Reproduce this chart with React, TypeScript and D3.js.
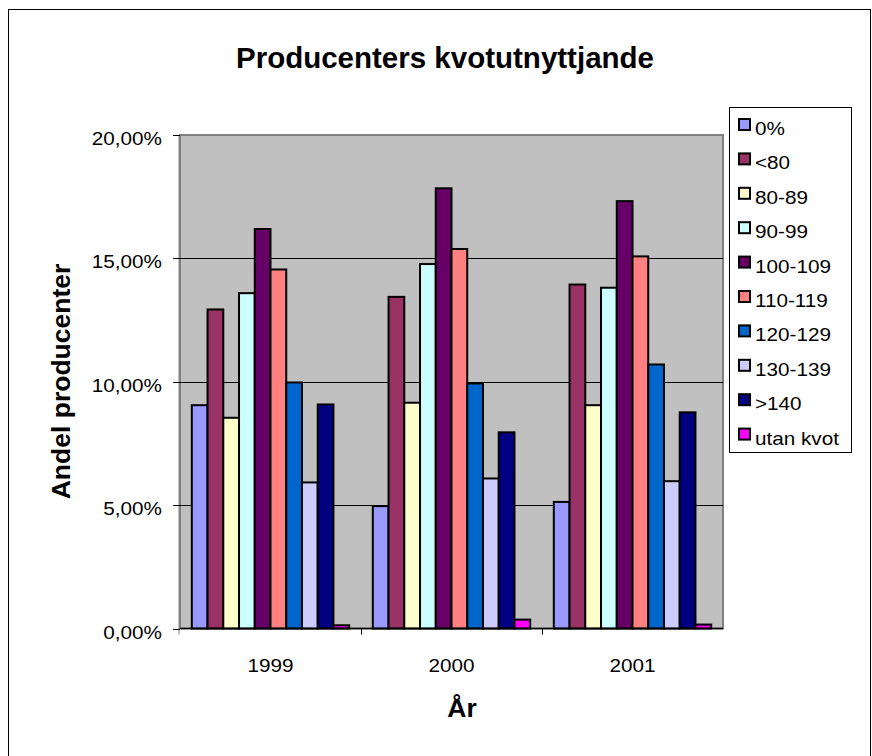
import React from "react";
import * as d3 from "d3";

const years = ["1999", "2000", "2001"];
const seriesNames = ["0%", "<80", "80-89", "90-99", "100-109", "110-119", "120-129", "130-139", ">140", "utan kvot"];
const seriesColors = ["#9999FF", "#993366", "#FFFFCC", "#CCFFFF", "#660066", "#FF8080", "#0066CC", "#CCCCFF", "#000080", "#FF00FF"];
const values1999 = [9.05, 12.93, 8.54, 13.59, 16.19, 14.55, 9.97, 5.92, 9.08, 0.13];
const values2000 = [4.96, 13.44, 9.15, 14.77, 17.84, 15.38, 9.93, 6.08, 7.95, 0.36];
const values2001 = [5.13, 13.94, 9.05, 13.81, 17.32, 15.08, 10.7, 5.97, 8.76, 0.16];
const yTicks = [0, 5, 10, 15, 20];

const valuesByYear = [values1999, values2000, values2001];
const FONT = "Arial, 'Liberation Sans', sans-serif";
const FS = 18;
const SX = 1.15;

function T({ x, y, anchor, children }: { x: number; y: number; anchor?: "start" | "middle" | "end"; children: React.ReactNode }) {
  return (
    <text transform={`translate(${x},${y}) scale(${SX},1)`} textAnchor={anchor || "start"} fontSize={FS}>
      {children}
    </text>
  );
}

export default function App() {
  const plot = { left: 180, right: 723, top: 135, bottom: 628.5 };
  const x0 = d3.scaleBand<string>().domain(years).range([plot.left, plot.right]).paddingInner(0).paddingOuter(0);
  const x1 = d3.scaleBand<string>().domain(seriesNames).range([0, x0.bandwidth()]).paddingInner(0).paddingOuter(0.75);
  const y = d3.scaleLinear().domain([0, 20]).range([plot.bottom, plot.top]);
  const fmt = (v: number) => v.toFixed(2).replace(".", ",") + "%";

  const legend = { x: 729.5, y: 107.5, w: 122, h: 345, step: 34.4, firstBaseline: 135 };

  return (
    <svg width={872} height={756} style={{ position: "absolute", left: 0, top: 0, background: "#fff" }} fontFamily={FONT}>
      <rect x={8.5} y={9.5} width={862} height={770} fill="#fff" stroke="#000" strokeWidth={1} />
      <text x={445} y={68} textAnchor="middle" fontSize={29.5} fontWeight="bold">Producenters kvotutnyttjande</text>

      {/* plot area */}
      <rect x={plot.left} y={plot.top} width={plot.right - plot.left} height={plot.bottom - plot.top} fill="#C0C0C0" stroke="#808080" strokeWidth={2} />
      {yTicks.filter(t => t > 0 && t < 20).map(t => (
        <line key={t} x1={plot.left} x2={plot.right} y1={Math.round(y(t)) + 0.5} y2={Math.round(y(t)) + 0.5} stroke="#000" strokeWidth={1} />
      ))}

      {/* bars */}
      {years.map((yr, yi) => (
        <g key={yr} transform={`translate(${x0(yr)},0)`}>
          {seriesNames.map((s, si) => {
            const v = valuesByYear[yi][si];
            return (
              <rect key={s} x={x1(s)!} y={y(v)} width={x1.bandwidth()} height={y(0) - y(v)}
                fill={seriesColors[si]} stroke="#000" strokeWidth={2} />
            );
          })}
        </g>
      ))}

      {/* axes */}
      <line x1={plot.left} x2={plot.right} y1={plot.bottom} y2={plot.bottom} stroke="#000" strokeWidth={1.5} />
      <line x1={plot.left - 1} x2={plot.left - 1} y1={plot.top} y2={plot.bottom + 6} stroke="#808080" strokeWidth={1} />
      {yTicks.map(t => (
        <g key={t}>
          <line x1={plot.left - 7} x2={plot.left} y1={Math.round(y(t)) + 0.5} y2={Math.round(y(t)) + 0.5} stroke="#000" />
          <T x={162} y={y(t) + 10} anchor="end">{fmt(t)}</T>
        </g>
      ))}
      {years.map((yr, i) => (
        <g key={yr}>
          {i > 0 && <line x1={Math.round(x0(yr)!) + 0.5} x2={Math.round(x0(yr)!) + 0.5} y1={plot.bottom} y2={plot.bottom + 6} stroke="#000" />}
          <T x={x0(yr)! + x0.bandwidth() / 2} y={672} anchor="middle">{yr}</T>
        </g>
      ))}
      <text x={462} y={717} textAnchor="middle" fontSize={26.5} fontWeight="bold">År</text>
      <text transform={`translate(70,381.5) rotate(-90)`} textAnchor="middle" fontSize={26.5} fontWeight="bold">Andel producenter</text>

      {/* legend */}
      <rect x={legend.x} y={legend.y} width={legend.w} height={legend.h} fill="#fff" stroke="#000" strokeWidth={1} />
      {seriesNames.map((s, i) => {
        const bl = legend.firstBaseline + i * legend.step;
        return (
          <g key={s}>
            <rect x={739} y={bl - 16} width={11} height={11} fill={seriesColors[i]} stroke="#000" strokeWidth={2} />
            <T x={755} y={bl}>{s}</T>
          </g>
        );
      })}
    </svg>
  );
}
